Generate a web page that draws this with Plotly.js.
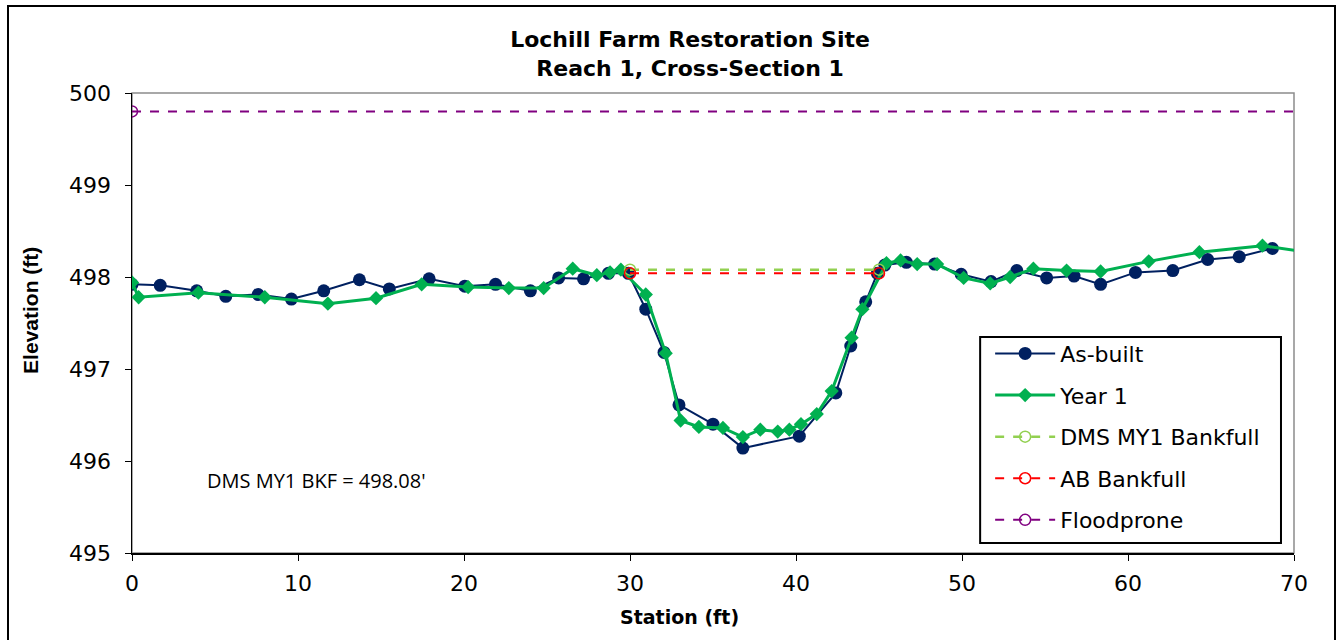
<!DOCTYPE html>
<html>
<head>
<meta charset="utf-8">
<script src="https://cdn.plot.ly/plotly-3.0.1.min.js"></script>
<style>
html,body{margin:0;padding:0;background:#fff;overflow:hidden;}
#chart{position:absolute;left:7px;top:5px;width:1325px;height:640px;border:2px solid #000;}
</style>
</head>
<body>
<div id="chart"></div>
<script>
// As-built survey
const asBuiltStation = [0, 1.7, 3.9, 5.65, 7.6, 9.6, 11.55, 13.7, 15.5, 17.9, 20.05, 21.9, 24.0, 25.7, 27.2, 28.7, 29.9, 30.95, 32.05, 32.95, 35.0, 36.8, 40.2, 42.4, 43.3, 44.2, 44.9, 45.35, 46.65, 48.35, 49.95, 51.75, 53.3, 55.1, 56.75, 58.35, 60.45, 62.7, 64.8, 66.7, 68.7];
const asBuiltElev = [497.92, 497.91, 497.85, 497.79, 497.81, 497.76, 497.85, 497.97, 497.87, 497.98, 497.90, 497.92, 497.85, 497.99, 497.98, 498.04, 498.04, 497.65, 497.18, 496.61, 496.40, 496.14, 496.27, 496.74, 497.25, 497.73, 498.04, 498.13, 498.16, 498.14, 498.03, 497.95, 498.07, 497.99, 498.01, 497.92, 498.05, 498.07, 498.19, 498.22, 498.31];
// Year 1 survey
const year1Station = [0, 0.4, 4.0, 8.0, 11.8, 14.7, 17.45, 20.25, 22.7, 24.8, 26.55, 28.0, 28.8, 29.45, 30.95, 32.15, 33.05, 34.15, 35.6, 36.8, 37.85, 38.9, 39.6, 40.3, 41.25, 42.15, 43.35, 44.0, 45.45, 46.3, 47.3, 48.5, 50.1, 51.7, 52.9, 54.3, 56.3, 58.35, 61.25, 64.3, 68.1, 71.5];
const year1Elev = [497.94, 497.78, 497.83, 497.78, 497.71, 497.77, 497.92, 497.89, 497.88, 497.88, 498.09, 498.02, 498.05, 498.08, 497.81, 497.17, 496.44, 496.37, 496.36, 496.26, 496.34, 496.32, 496.34, 496.40, 496.51, 496.76, 497.34, 497.65, 498.15, 498.18, 498.14, 498.14, 497.99, 497.93, 498.00, 498.09, 498.07, 498.06, 498.17, 498.27, 498.34, 498.25];
// Bankfull / floodprone lines
const dmsBkfStation = [30, 45];
const dmsBkfElev = [498.08, 498.08];
const abBkfStation = [30, 45];
const abBkfElev = [498.04, 498.04];
const floodStation = [0, 75];
const floodElev = [499.80, 499.80];
// Axis ticks
const xTicks = [0, 10, 20, 30, 40, 50, 60, 70];
const yTicks = [495, 496, 497, 498, 499, 500];

const wide = '"DejaVu Sans", sans-serif';
const narrow = '"Liberation Sans", Arial, sans-serif';

const traces = [
  {x: asBuiltStation, y: asBuiltElev, name: 'As-built', mode: 'lines+markers', legendgroup: 'a',
   line: {color: '#002060', width: 2}, marker: {symbol: 'circle', size: 13, color: '#002060'}},
  {x: year1Station, y: year1Elev, name: 'Year 1', mode: 'lines+markers', legendgroup: 'b',
   line: {color: '#00B050', width: 3}, marker: {symbol: 'diamond', size: 11, color: '#00B050'}},
  {x: dmsBkfStation, y: dmsBkfElev, name: 'DMS MY1 Bankfull', mode: 'lines+markers', legendgroup: 'c',
   line: {color: '#92D050', width: 2.5, dash: 'dash'}, marker: {symbol: 'circle-open', size: 11, color: '#92D050', line: {width: 1.5}}},
  {x: abBkfStation, y: abBkfElev, name: 'AB Bankfull', mode: 'lines+markers', legendgroup: 'd',
   line: {color: '#FF0000', width: 2, dash: 'dash'}, marker: {symbol: 'circle-open', size: 11, color: '#FF0000', line: {width: 1.5}}},
  {x: floodStation, y: floodElev, name: 'Floodprone', mode: 'lines+markers', legendgroup: 'e',
   line: {color: '#800080', width: 2, dash: 'dash'}, marker: {symbol: 'circle-open', size: 11, color: '#800080', line: {width: 1.5}}}
];

const layout = {
  width: 1325, height: 640,
  margin: {l: 123, r: 40, t: 86, b: 94, pad: 0},
  paper_bgcolor: '#fff', plot_bgcolor: '#fff',
  font: {family: wide, color: '#000'},
  showlegend: true,
  title: {text: '<b>Lochill Farm Restoration Site<br>Reach 1, Cross-Section 1</b>', font: {family: wide, size: 22, color: '#000'},
          xref: 'container', x: 0.514, xanchor: 'center', yref: 'container', y: 0.937, yanchor: 'top'},
  xaxis: {range: [0, 70], tickvals: xTicks, ticktext: xTicks.map(String), showgrid: false, zeroline: false,
          showline: true, linecolor: '#000', linewidth: 1.5, ticks: 'outside', ticklen: 6, tickcolor: '#000',
          tickfont: {family: wide, size: 22, color: '#000'}, ticklabelstandoff: 4},
  yaxis: {range: [495, 500], tickvals: yTicks, ticktext: yTicks.map(String), showgrid: false, zeroline: false,
          showline: true, linecolor: '#000', linewidth: 1.5, ticks: 'outside', ticklen: 6, tickcolor: '#000',
          tickfont: {family: wide, size: 22, color: '#000'}, ticklabelstandoff: 9},
  shapes: [
    {type: 'rect', xref: 'paper', yref: 'paper', x0: 0, x1: 1, y0: 0, y1: 1, line: {color: '#8c8c8c', width: 1.5}, layer: 'below'},
    {type: 'rect', xref: 'paper', yref: 'paper', x0: 0.7299, x1: 0.9888, y0: 0.0217, y1: 0.4696,
     line: {color: '#000', width: 2}, fillcolor: '#fff', layer: 'above'}
  ],
  annotations: [
    {text: "DMS MY1 BKF = 498.08'", x: 11.1, y: 495.79, xref: 'x', yref: 'y', showarrow: false,
     font: {family: '"Open Sans", sans-serif', size: 20, color: '#000'}},
    {text: '<b>Station (ft)</b>', xref: 'paper', yref: 'paper', x: 0.471, y: -0.167, showarrow: false,
     font: {family: wide, size: 19, color: '#000'}},
    {text: '<b>Elevation (ft)</b>', xref: 'paper', yref: 'paper', x: -0.0996, y: 0.528, textangle: -90, showarrow: false,
     font: {family: narrow, size: 21, color: '#000'}}
  ],
  legend: {x: 0.7385, y: 0.479, xanchor: 'left', yanchor: 'top', bgcolor: 'rgba(0,0,0,0)', borderwidth: 0,
           font: {family: wide, size: 22, color: '#000'}, traceorder: 'grouped', tracegroupgap: 10, itemwidth: 60}
};

Plotly.newPlot('chart', traces, layout, {displayModeBar: false, staticPlot: true});
</script>
</body>
</html>
